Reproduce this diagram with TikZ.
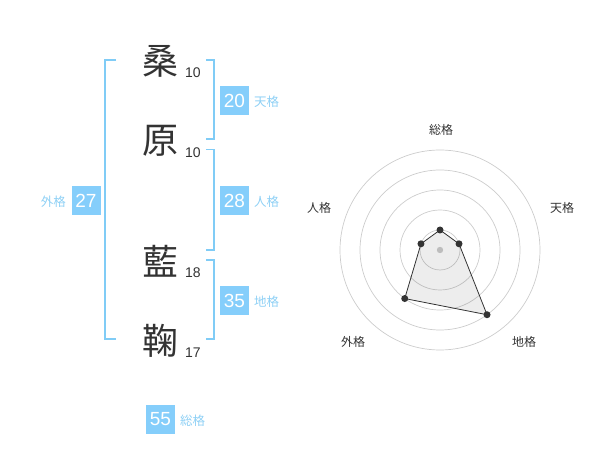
\documentclass[tikz,border=0pt]{standalone}
\usepackage{fontspec}
\usetikzlibrary{calc}
\setmainfont{Liberation Sans}
\newfontfamily\jp{Noto Sans CJK JP}
\definecolor{boxblue}{HTML}{85CEFB}
\definecolor{lblblue}{HTML}{8ED0F5}
\definecolor{brk}{HTML}{80CCF6}
\definecolor{ink}{HTML}{333333}
\definecolor{ring}{HTML}{CCCCCC}
\tikzset{
  kanji/.style={font=\jp\fontsize{36}{36}\selectfont, text=ink, inner sep=0pt},
  strokes/.style={font=\fontsize{14}{14}\selectfont, text=ink, inner sep=0pt},
  valbox/.style={fill=boxblue, text=white, minimum width=29pt, minimum height=29pt, inner sep=0pt, font=\fontsize{19}{19}\selectfont},
  kaku/.style={font=\jp\fontsize{12.5}{12.5}\selectfont, text=lblblue, inner sep=0pt},
  bracket/.style={draw=brk, line width=1.6pt},
  axislbl/.style={font=\jp\fontsize{12}{12}\selectfont, text=ink, inner sep=0pt},
  dot/.style={circle, fill=ink, inner sep=0pt, minimum size=7pt},
}
\begin{document}
\begin{tikzpicture}[x=1pt,y=-1pt]
\useasboundingbox (0,0) rectangle (600,470);
% characters
\node[kanji] (c1) at (160,61) {桑};
\node[strokes] (s1) at (193,73) {10};
\node[kanji] (c2) at (160,141) {原};
\node[strokes] (s2) at (193,153) {10};
\node[kanji] (c3) at (160,261) {藍};
\node[strokes] (s3) at (193,273) {18};
\node[kanji] (c4) at (160,341) {鞠};
\node[strokes] (s4) at (193,353) {17};
% brackets
\draw[bracket] (116,60) -- (105,60) -- (105,339) -- (116,339);
\draw[bracket] (206,60) -- (214,60) -- (214,139) -- (206,139);
\draw[bracket] (206,149.5) -- (214,149.5) -- (214,250) -- (206,250);
\draw[bracket] (206,260) -- (214,260) -- (214,339) -- (206,339);
% value boxes
\node[valbox] (ten) at (234.5,100.5) {20};
\node[kaku, anchor=west] (tenl) at (254,101.5) {天格};
\node[valbox] (jin) at (234.5,200.5) {28};
\node[kaku, anchor=west] (jinl) at (254,201.5) {人格};
\node[valbox] (chi) at (234.5,300.5) {35};
\node[kaku, anchor=west] (chil) at (254,301.5) {地格};
\node[valbox] (gai) at (86,200.5) {27};
\node[kaku, anchor=east] (gail) at (66,201.5) {外格};
\node[valbox] (sou) at (160.5,419.5) {55};
\node[kaku, anchor=west] (soul) at (180,421) {総格};
% radar
\coordinate (C) at (440,250);
\foreach \r in {20,40,60,80,100} \draw[ring, line width=0.7pt] (C) circle (\r);
\fill[ring] (C) circle (3.2);
\coordinate (p1) at ($(C)+(-90:20)$);
\coordinate (p2) at ($(C)+(-18:20)$);
\coordinate (p3) at ($(C)+(54:80)$);
\coordinate (p4) at ($(C)+(126:60)$);
\coordinate (p5) at ($(C)+(198:20)$);
\fill[black, opacity=0.07] (p1) -- (p2) -- (p3) -- (p4) -- (p5) -- cycle;
\draw[ink, line width=0.8pt] (p1) -- (p2) -- (p3) -- (p4) -- (p5) -- cycle;
\foreach \p in {p1,p2,p3,p4,p5} \node[dot] at (\p) {};
\node[axislbl] (a1) at (441,130) {総格};
\node[axislbl] (a2) at (562,208) {天格};
\node[axislbl] (a3) at (524,342) {地格};
\node[axislbl] (a4) at (353,342) {外格};
\node[axislbl] (a5) at (319,208) {人格};
\end{tikzpicture}
\end{document}
